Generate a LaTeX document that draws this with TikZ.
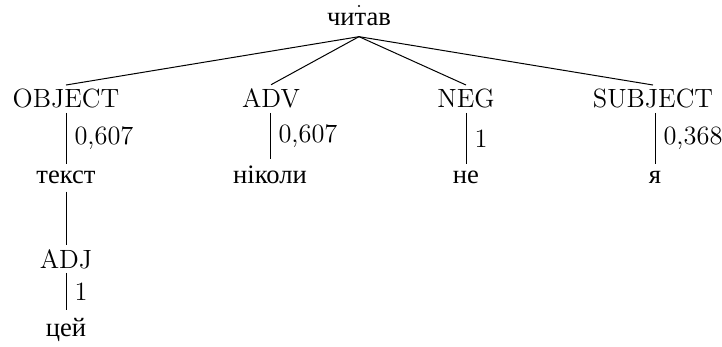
\documentclass[tikz,border=0pt]{standalone}
\usepackage{fontspec}
\newfontfamily\myserifcyr{Liberation Serif}
\begin{document}
\begin{tikzpicture}[x=0.5pt,y=-0.5pt,
  cat/.style={font=\fontsize{13.2}{16}\selectfont, inner xsep=0pt, inner ysep=2pt, anchor=base},
  word/.style={font=\myserifcyr\fontsize{13.3}{16}\selectfont, inner xsep=0pt, inner ysep=3.5pt, anchor=base},
  wt/.style={font=\fontsize{13.2}{16}\selectfont, anchor=west, inner sep=0pt, xshift=4pt},
  link/.style={line width=0.5pt}]
\useasboundingbox (0,0) rectangle (722,347);
\node[circle, fill, inner sep=0pt, minimum size=1.2pt] (top) at (359,6) {};
\node[word, inner ysep=5pt] (root) at (359,26) {читав};
\node[cat] (obj) at (66,108) {OBJECT};
\node[cat] (adv) at (271,108) {ADV};
\node[cat] (neg) at (466,108) {NEG};
\node[cat] (subj) at (653,108) {SUBJECT};
\node[word] (tekst) at (66,184) {текст};
\node[word] (nikoly) at (270,184) {ніколи};
\node[word] (ne) at (466,184) {не};
\node[word] (ya) at (655,184) {я};
\node[cat] (adj) at (66,268) {ADJ};
\node[word] (cej) at (66,336) {цей};
\draw[link] (root.south) -- (obj.north);
\draw[link] (root.south) -- (adv.north);
\draw[link] (root.south) -- (neg.north);
\draw[link] (root.south) -- (subj.north);
\draw[link] (obj.south) -- node[wt]{0,607} (tekst.north);
\draw[link] (adv.south -| nikoly.north) -- node[wt]{0,607} (nikoly.north);
\draw[link] (neg.south) -- node[wt]{1} (ne.north);
\draw[link] (subj.south -| ya.north) -- node[wt]{0,368} (ya.north);
\draw[link] (tekst.south) -- (adj.north);
\draw[link] (adj.south) -- node[wt]{1} (cej.north);
\end{tikzpicture}
\end{document}
